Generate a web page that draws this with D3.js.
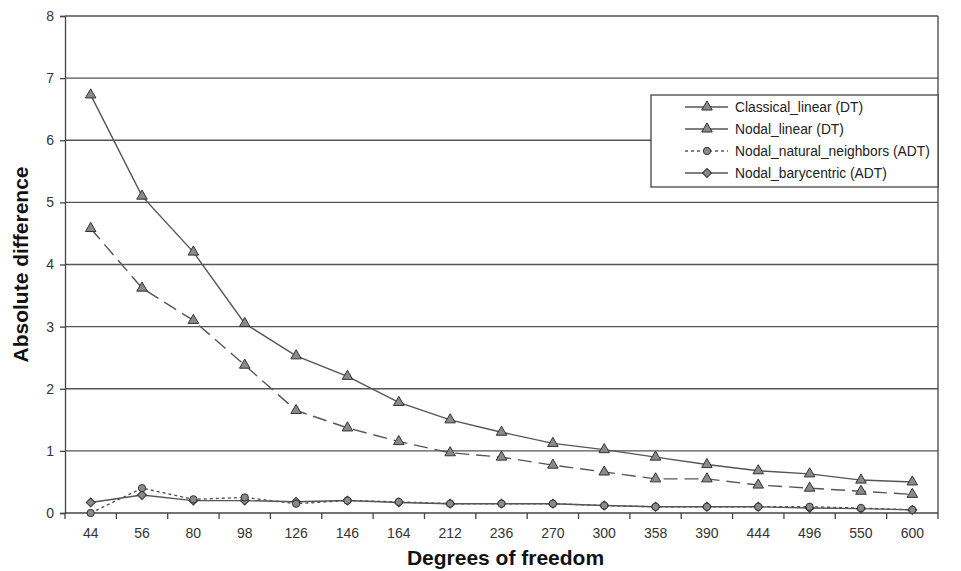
<!DOCTYPE html>
<html>
<head>
<meta charset="utf-8">
<script src="https://cdn.jsdelivr.net/npm/d3@7"></script>
<style>
  html, body { margin: 0; padding: 0; background: #fff; overflow: hidden; }
  svg { display: block; font-family: "Liberation Sans", Arial, sans-serif; }
</style>
</head>
<body>
<svg id="chart"></svg>
<script>
const categories = ["44", "56", "80", "98", "126", "146", "164", "212", "236", "270", "300", "358", "390", "444", "496", "550", "600"];
const classicalLinear = [6.73, 5.1, 4.2, 3.05, 2.53, 2.2, 1.78, 1.5, 1.3, 1.12, 1.02, 0.9, 0.78, 0.68, 0.63, 0.53, 0.5];
const nodalLinear = [4.58, 3.62, 3.1, 2.38, 1.65, 1.37, 1.15, 0.97, 0.9, 0.77, 0.66, 0.55, 0.55, 0.45, 0.4, 0.35, 0.3];
const nodalNatural = [0.0, 0.4, 0.22, 0.25, 0.15, 0.2, 0.18, 0.15, 0.15, 0.15, 0.12, 0.1, 0.1, 0.1, 0.1, 0.08, 0.05];
const nodalBary = [0.17, 0.29, 0.2, 0.2, 0.18, 0.2, 0.17, 0.15, 0.15, 0.15, 0.12, 0.1, 0.1, 0.1, 0.08, 0.07, 0.05];
const yTicks = [0, 1, 2, 3, 4, 5, 6, 7, 8];

const series = [
  { name: "Classical_linear (DT)", values: classicalLinear, dash: null, legendDash: null, marker: "triangle" },
  { name: "Nodal_linear (DT)", values: nodalLinear, dash: "14,7", legendDash: null, marker: "triangle" },
  { name: "Nodal_natural_neighbors (ADT)", values: nodalNatural, dash: "3,3", legendDash: "3,3", marker: "circle" },
  { name: "Nodal_barycentric (ADT)", values: nodalBary, dash: null, legendDash: null, marker: "diamond" }
];

const width = 961, height = 571;
const margin = { top: 16, right: 23, bottom: 58, left: 65 };
const innerWidth = width - margin.left - margin.right;
const innerHeight = height - margin.top - margin.bottom;

const svg = d3.select("#chart").attr("width", width).attr("height", height);
const g = svg.append("g").attr("transform", `translate(${margin.left},${margin.top})`);

const x = d3.scaleBand().domain(categories).range([0, innerWidth]);
const y = d3.scaleLinear().domain([0, 8]).range([innerHeight, 0]);

// gridlines
g.append("g")
  .selectAll("line")
  .data(yTicks.filter(d => d > 0))
  .enter()
  .append("line")
  .attr("x1", 0).attr("x2", innerWidth)
  .attr("y1", d => y(d)).attr("y2", d => y(d))
  .attr("stroke", "#555").attr("stroke-width", 1.3);

// right border
g.append("line")
  .attr("x1", innerWidth).attr("x2", innerWidth)
  .attr("y1", 0).attr("y2", innerHeight)
  .attr("stroke", "#444").attr("stroke-width", 1.3);

// y axis
const yAxis = g.append("g")
  .call(d3.axisLeft(y).tickValues(yTicks).tickSize(5).tickPadding(6));
yAxis.select(".domain").attr("stroke", "#444").attr("stroke-width", 1.3);
yAxis.selectAll(".tick line").attr("stroke", "#444").attr("stroke-width", 1.3);
yAxis.selectAll("text").style("font-size", "14px").attr("fill", "#333");

// x axis, ticks between the categories
const xAxis = g.append("g").attr("transform", `translate(0,${innerHeight})`);
xAxis.append("line")
  .attr("x1", 0).attr("x2", innerWidth)
  .attr("stroke", "#444").attr("stroke-width", 1.3);
xAxis.selectAll(".sep")
  .data(categories.concat([null]))
  .enter()
  .append("line")
  .attr("x1", (d, i) => i * x.step()).attr("x2", (d, i) => i * x.step())
  .attr("y1", 0).attr("y2", 6)
  .attr("stroke", "#444").attr("stroke-width", 1.3);
xAxis.selectAll(".lbl")
  .data(categories)
  .enter()
  .append("text")
  .attr("x", d => x(d) + x.bandwidth() / 2)
  .attr("y", 25)
  .attr("text-anchor", "middle")
  .style("font-size", "14px")
  .attr("fill", "#333")
  .text(d => d);

const cx = (d, i) => x(categories[i]) + x.bandwidth() / 2;

const line = d3.line()
  .x((d, i) => cx(d, i))
  .y(d => y(d));

const symbolFor = {
  triangle: d3.symbol().type(d3.symbolTriangle).size(48),
  circle: d3.symbol().type(d3.symbolCircle).size(42),
  diamond: d3.symbol().type(d3.symbolSquare).size(40)
};
const rot = m => (m === "diamond" ? " rotate(45)" : "");

// lower series first so triangles sit on top
series.slice().reverse().forEach(s => {
  g.append("path")
    .datum(s.values)
    .attr("fill", "none")
    .attr("stroke", "#555")
    .attr("stroke-width", 1.4)
    .attr("stroke-dasharray", s.dash)
    .attr("d", line);

  g.selectAll(null)
    .data(s.values)
    .enter()
    .append("path")
    .attr("d", symbolFor[s.marker])
    .attr("transform", (d, i) => `translate(${cx(d, i)},${y(d)})` + rot(s.marker))
    .attr("fill", "#8a8a8a")
    .attr("stroke", "#333")
    .attr("stroke-width", 1);
});

// legend
const legend = svg.append("g").attr("transform", "translate(651,95)");
legend.append("rect")
  .attr("width", 287).attr("height", 92)
  .attr("fill", "#fff")
  .attr("stroke", "#444").attr("stroke-width", 1.3);

series.forEach((s, i) => {
  const row = legend.append("g").attr("transform", `translate(0,${12 + i * 22})`);
  row.append("line")
    .attr("x1", 34).attr("x2", 77)
    .attr("stroke", "#555").attr("stroke-width", 1.4)
    .attr("stroke-dasharray", s.legendDash);
  row.append("path")
    .attr("d", symbolFor[s.marker])
    .attr("transform", "translate(56,0)" + rot(s.marker))
    .attr("fill", "#8a8a8a")
    .attr("stroke", "#333");
  row.append("text")
    .attr("x", 84).attr("y", 5)
    .style("font-size", "13.8px")
    .attr("fill", "#222")
    .text(s.name);
});

// axis titles
svg.append("text")
  .attr("transform", `translate(28,${margin.top + innerHeight / 2}) rotate(-90)`)
  .attr("text-anchor", "middle")
  .style("font-size", "21px")
  .style("font-weight", "bold")
  .attr("fill", "#111")
  .text("Absolute difference");

svg.append("text")
  .attr("x", margin.left + innerWidth / 2 + 4)
  .attr("y", 565)
  .attr("text-anchor", "middle")
  .style("font-size", "21px")
  .style("font-weight", "bold")
  .attr("fill", "#111")
  .text("Degrees of freedom");
</script>
</body>
</html>
